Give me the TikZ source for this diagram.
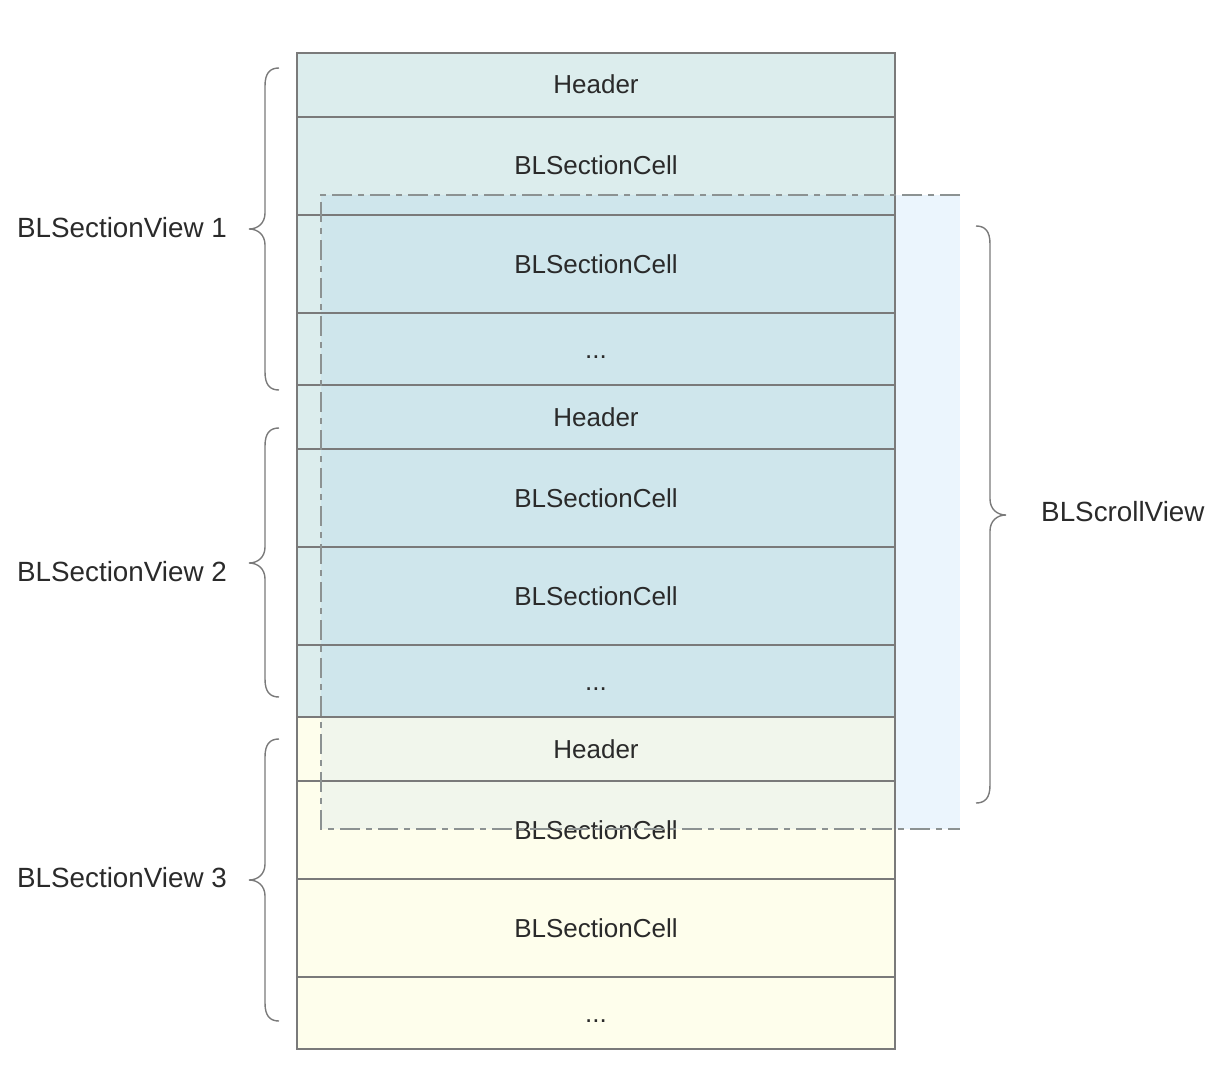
\documentclass[tikz,border=0pt]{standalone}
\usepackage{fontspec}
\setmainfont{Liberation Sans}
\usepackage{tikz}
\usetikzlibrary{positioning,backgrounds}
\usepackage{xcolor}
\definecolor{linegray}{HTML}{7A7A7A}
\definecolor{dashgray}{HTML}{8C9292}
\definecolor{textgray}{HTML}{2A2A2A}
\definecolor{tealbase}{HTML}{DCEDED}
\definecolor{yellowbase}{HTML}{FEFEEC}
\definecolor{scrollteal}{HTML}{CFE6EC}
\definecolor{scrollyellow}{HTML}{F1F6EC}
\definecolor{scrollout}{HTML}{EBF5FD}
\tikzstyle{cellbox}=[
  draw=linegray,line width=1.6pt,minimum width=598pt,inner sep=0pt,outer sep=0pt,
  text=textgray,font=\fontsize{26pt}{30pt}\selectfont,text height=18pt,text depth=0pt
]
\tikzstyle{headerbox}=[
  cellbox,minimum height=64pt
]
\tikzstyle{rowbox}=[
  cellbox,minimum height=98pt
]
\tikzstyle{morebox}=[
  cellbox,minimum height=72pt
]
\tikzstyle{viewlabel}=[
  text=textgray,font=\fontsize{27.8pt}{32pt}\selectfont,inner sep=0pt
]
\tikzstyle{scrollline}=[
  draw=dashgray,line width=1.5pt,dash pattern=on 20pt off 6pt on 6pt off 6pt
]
\tikzstyle{bracepath}=[
  draw=linegray,line width=1.4pt
]
% #1 end x, #2 side (-1 left, 1 right), #3 top y, #4 tip y, #5 bottom y
\newcommand{\viewbrace}[5]{%
  \draw[bracepath] (#1,#3)
    .. controls ({#1+(#2)*9},#3) and ({#1+(#2)*14},{#3+5}) .. ({#1+(#2)*14},{#3+18})
    -- ({#1+(#2)*14},{#4-16})
    .. controls ({#1+(#2)*14},{#4-6}) and ({#1+(#2)*21},#4) .. ({#1+(#2)*30},#4)
    .. controls ({#1+(#2)*21},#4) and ({#1+(#2)*14},{#4+6}) .. ({#1+(#2)*14},{#4+16})
    -- ({#1+(#2)*14},{#5-18})
    .. controls ({#1+(#2)*14},{#5-5}) and ({#1+(#2)*9},#5) .. (#1,#5);
}

\begin{document}
\begin{tikzpicture}[x=1pt,y=-1pt]
  \useasboundingbox (0,0) rectangle (1212,1086);
  % section 1
  \node (h1) [headerbox,anchor=north] at (596,53) {Header};
  \node (c11) [rowbox,below=0pt of h1] {BLSectionCell};
  \node (c12) [rowbox,below=0pt of c11] {BLSectionCell};
  \node (d1) [morebox,below=0pt of c12] {...};
  % section 2
  \node (h2) [headerbox,below=0pt of d1] {Header};
  \node (c21) [rowbox,below=0pt of h2] {BLSectionCell};
  \node (c22) [rowbox,below=0pt of c21] {BLSectionCell};
  \node (d2) [morebox,below=0pt of c22] {...};
  % section 3
  \node (h3) [headerbox,below=0pt of d2] {Header};
  \node (c31) [rowbox,below=0pt of h3] {BLSectionCell};
  \node (c32) [rowbox,below=0pt of c31] {BLSectionCell};
  \node (d3) [morebox,below=0pt of c32] {...};
  % scroll view
  \coordinate (svnw) at (321,195);
  \coordinate (svse) at (960,829);
  \begin{scope}[on background layer]
    \fill[tealbase] (h1.north west) rectangle (d2.south east);
    \fill[yellowbase] (h3.north west) rectangle (d3.south east);
    \fill[scrollteal] (svnw) rectangle (d2.south east);
    \fill[scrollyellow] (svnw |- h3.north) rectangle (svse -| h3.east);
    \fill[scrollout] (svnw -| h1.east) rectangle (svse);
  \end{scope}
  \draw[scrollline] (svse |- svnw) -- (svnw) -- (svnw |- svse) -- (svse);
  % braces and labels
  \viewbrace{279}{-1}{68}{229}{390}
  \viewbrace{279}{-1}{428}{563}{697}
  \viewbrace{279}{-1}{739}{880}{1021}
  \viewbrace{976}{1}{226}{515}{803}
  \node (sv1) [viewlabel,anchor=east] at (227,228) {BLSectionView 1};
  \node (sv2) [viewlabel,anchor=east] at (227,572) {BLSectionView 2};
  \node (sv3) [viewlabel,anchor=east] at (227,878) {BLSectionView 3};
  \node (scv) [viewlabel,anchor=west] at (1041,512) {BLScrollView};
\end{tikzpicture}
\end{document}
